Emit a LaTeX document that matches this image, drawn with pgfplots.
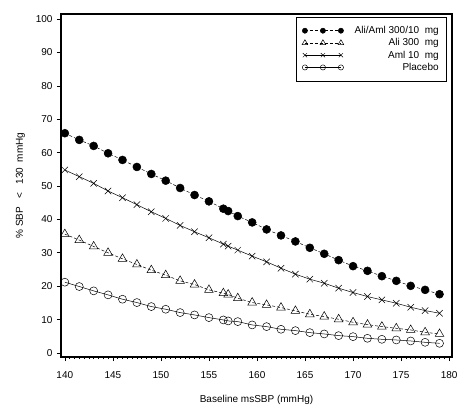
\documentclass[border=0pt]{standalone}
\usepackage{pgfplots}
\pgfplotsset{compat=1.18}
\usetikzlibrary{calc}
\usepackage{fontspec}
\setmainfont{Liberation Sans}
\setsansfont{Liberation Sans}

\begin{document}
\begin{tikzpicture}
  \begin{axis}[
      scale only axis,
      width=391pt, height=343pt,
      xmin=139.6, xmax=180.3,
      ymin=-1.2, ymax=101.5,
      xtick={140,145,...,180},
      ytick={0,10,...,100},
      minor x tick num=9,
      tick align=outside,
      xtick pos=bottom, ytick pos=left,
      major tick length=4pt,
      minor tick length=2pt,
      axis line style={line width=1.2pt},
      every tick/.style={black, line width=0.6pt},
      tick label style={font=\fontsize{10}{12}\selectfont},
      xticklabel style={yshift=-7pt},
      yticklabel style={xshift=-1pt},
      /pgf/number format/assume math mode=true,
      /pgf/number format/1000 sep={},
      label style={font=\fontsize{10}{12}\selectfont},
      xlabel={Baseline msSBP (mmHg)},
      ylabel={\%~SBP~~~<~~~130~~mmHg},
      xlabel style={yshift=-10pt},
      ylabel style={yshift=4pt},
      legend style={at={(0.987,0.991)}, anchor=north east,
        font=\fontsize{10}{12}\selectfont, draw=black, line width=0.5pt,
        cells={anchor=east}, legend cell align=right,
        row sep=-0.5pt, column sep=9pt, inner xsep=6pt, inner ysep=7pt},
      legend plot pos=left,
      legend image code/.code={
        \draw[mark repeat=1, mark phase=1, #1, every mark/.append style={scale=0.65}]
          plot coordinates {(0pt,0pt) (18pt,0pt) (36pt,0pt)};},
    ]

    % Ali/Aml 300/10 mg
    \addplot[black, densely dashed, line width=0.5pt, mark=*, mark size=4pt,
      mark options={solid, fill=black}] coordinates {
      (140,65.8) (141.5,63.8) (143,62.0) (144.5,59.8) (146,57.8) (147.5,55.7)
      (149,53.6) (150.5,51.6) (152,49.4) (153.5,47.3) (155,45.4) (156.5,43.2)
      (157,42.5) (158,41.0) (159.5,39.1) (161,37.0) (162.5,35.2) (164,33.4)
      (165.5,31.5) (167,29.7) (168.5,27.8) (170,26.0) (171.5,24.6) (173,23.0)
      (174.5,21.6) (176,20.1) (177.5,18.9) (179,17.6)
    };

    % Ali 300 mg
    \addplot[black, densely dashed, line width=0.5pt, mark=triangle, mark size=5pt,
      mark options={solid, fill=white}] coordinates {
      (140,35.6) (141.5,33.8) (143,31.9) (144.5,30.0) (146,28.2) (147.5,26.5)
      (149,24.8) (150.5,23.3) (152,21.6) (153.5,20.5) (155,18.9) (156.5,17.9)
      (157,17.5) (158,16.4) (159.5,15.1) (161,14.4) (162.5,13.6) (164,12.6)
      (165.5,11.6) (167,10.9) (168.5,10.1) (170,9.2) (171.5,8.5) (173,7.9)
      (174.5,7.4) (176,6.9) (177.5,6.2) (179,5.7)
    };

    % Aml 10 mg
    \addplot[black, solid, line width=0.5pt, mark=x, mark size=4.5pt,
      mark options={solid}] coordinates {
      (140,54.8) (141.5,52.8) (143,50.8) (144.5,48.5) (146,46.5) (147.5,44.4)
      (149,42.3) (150.5,40.3) (152,38.2) (153.5,36.3) (155,34.5) (156.5,32.6)
      (157,32.0) (158,30.8) (159.5,29.0) (161,27.3) (162.5,25.4) (164,23.6)
      (165.5,22.1) (167,20.9) (168.5,19.4) (170,18.1) (171.5,16.9) (173,15.9)
      (174.5,14.9) (176,13.7) (177.5,12.7) (179,11.9)
    };

    % Placebo
    \addplot[black, solid, line width=0.5pt, mark=o, mark size=4pt,
      mark options={solid}] coordinates {
      (140,21.2) (141.5,19.9) (143,18.6) (144.5,17.4) (146,16.1) (147.5,15.1)
      (149,13.9) (150.5,13.1) (152,12.1) (153.5,11.4) (155,10.6) (156.5,9.9)
      (157,9.6) (158,9.4) (159.5,8.4) (161,7.9) (162.5,7.1) (164,6.7)
      (165.5,6.1) (167,5.7) (168.5,5.2) (170,4.9) (171.5,4.4) (173,4.1)
      (174.5,3.9) (176,3.6) (177.5,3.2) (179,2.9)
    };

    \legend{Ali/Aml 300/10~~mg, Ali 300~~mg, Aml 10~~mg, Placebo}
  \end{axis}
  \path ($(current axis.south west)+(-61pt,-57pt)$) rectangle ($(current axis.north east)+(15pt,14pt)$);
\end{tikzpicture}
\end{document}
